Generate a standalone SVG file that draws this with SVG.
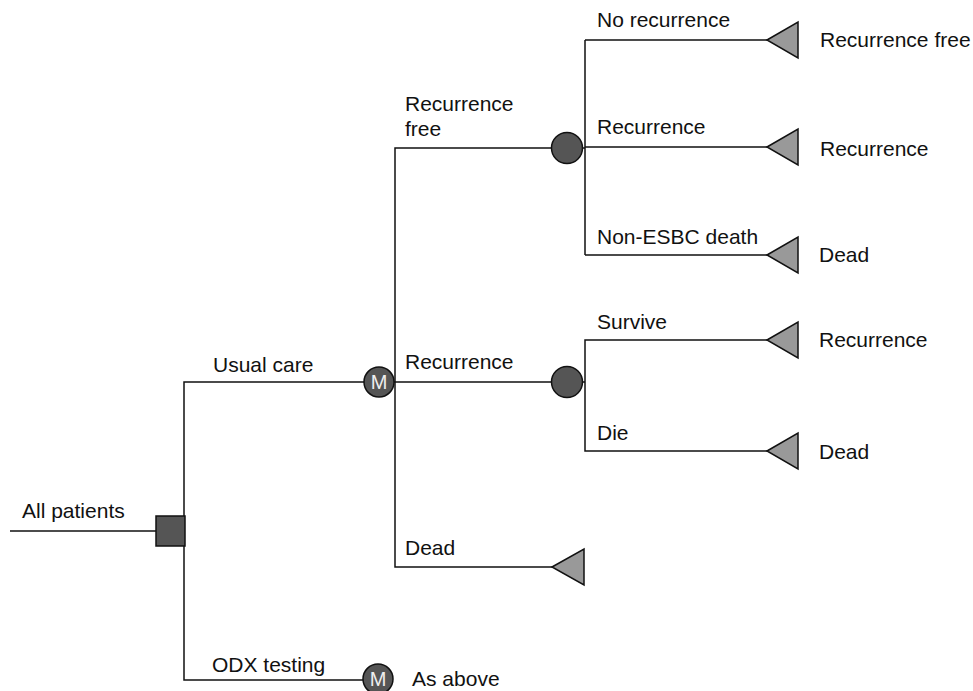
<svg xmlns="http://www.w3.org/2000/svg" width="973" height="691" viewBox="0 0 973 691">
<style>
text{font-family:"Liberation Sans",Arial,Helvetica,sans-serif;font-size:21px;fill:#111}
.ln{fill:none;stroke:#111;stroke-width:1.5}
.chance{fill:#555;stroke:#111;stroke-width:1.5}
.term{fill:#999;stroke:#111;stroke-width:1.5}
.m{fill:#eee;font-size:20px;text-anchor:middle}
</style>
<rect width="973" height="691" fill="#fff"/>
<g id="connectors" class="ln">
<path d="M10 531H156"/>
<path d="M184 531V382H364M184 546V680H363"/>
<path d="M394 382H552M395 382V148H552M395 382V567H552"/>
<path d="M583 148H585M585 40V255M585 40H767M585 147H767M585 255H767"/>
<path d="M583 382H585V340H767M585 382V451H767"/>
</g>
<g id="decision"><rect x="156" y="516" width="29" height="30" fill="#555" stroke="#111" stroke-width="1.5"/></g>
<g id="markov-usual"><circle class="chance" cx="379" cy="382" r="15"/><text class="m" x="379" y="389">M</text></g>
<g id="markov-odx"><circle class="chance" cx="378" cy="679" r="15"/><text class="m" x="378" y="686">M</text></g>
<g id="chance-rf"><circle class="chance" cx="567" cy="148" r="15.5"/></g>
<g id="chance-rec"><circle class="chance" cx="567" cy="382" r="15.5"/></g>
<g id="term1"><polygon class="term" points="767,40 798,22 798,58"/></g>
<g id="term2"><polygon class="term" points="767,147 798,129 798,165"/></g>
<g id="term3"><polygon class="term" points="767,255 798,237 798,273"/></g>
<g id="term4"><polygon class="term" points="767,340 798,322 798,358"/></g>
<g id="term5"><polygon class="term" points="767,451 798,433 798,469"/></g>
<g id="term6"><polygon class="term" points="552,567 584,549 584,585"/></g>
<g id="labels">
<text x="22" y="518">All patients</text>
<text x="213" y="372">Usual care</text>
<text x="212" y="672">ODX testing</text>
<text x="412" y="686">As above</text>
<text x="405" y="111">Recurrence</text>
<text x="405" y="136">free</text>
<text x="405" y="369">Recurrence</text>
<text x="405" y="555">Dead</text>
<text x="597" y="27">No recurrence</text>
<text x="597" y="134">Recurrence</text>
<text x="597" y="244">Non-ESBC death</text>
<text x="597" y="329">Survive</text>
<text x="597" y="440">Die</text>
<text x="820" y="47">Recurrence free</text>
<text x="820" y="156">Recurrence</text>
<text x="819" y="262">Dead</text>
<text x="819" y="347">Recurrence</text>
<text x="819" y="459">Dead</text>
</g>
</svg>
